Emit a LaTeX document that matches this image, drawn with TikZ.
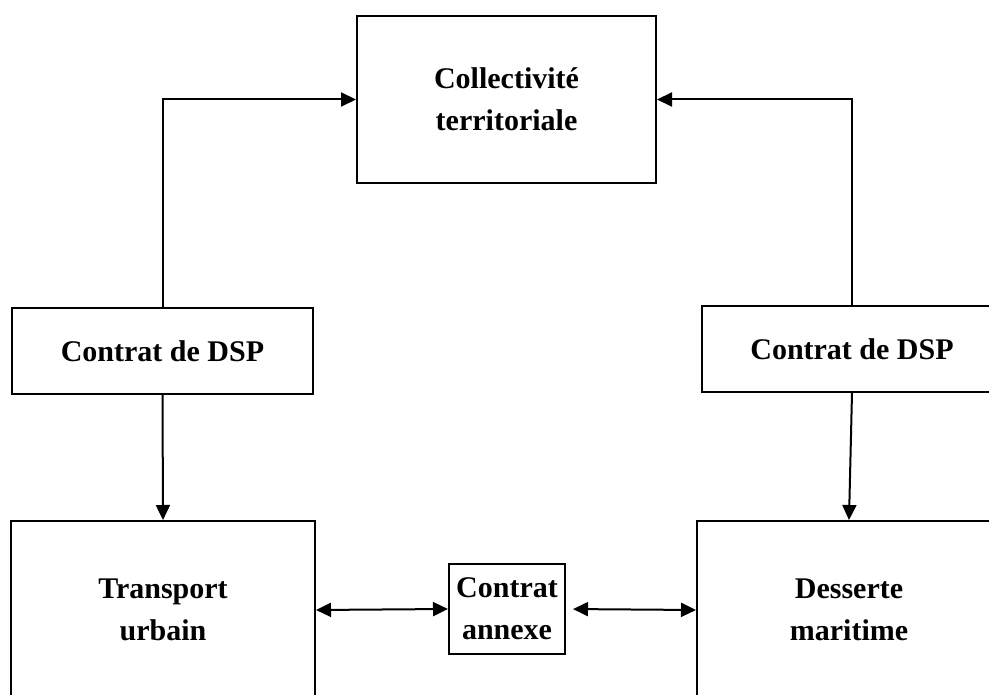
\documentclass[tikz,border=0pt]{standalone}
\usepackage{fontspec}
\setmainfont{Liberation Serif}
\usetikzlibrary{arrows.meta}
\begin{document}
\begin{tikzpicture}[x=1pt,y=-1pt,
  box/.style={draw, line width=2pt, inner sep=0pt, align=center,
    font=\bfseries\fontsize{30}{42}\selectfont},
  arr/.style={line width=2pt, -{Triangle[length=15pt,width=14pt]}},
  darr/.style={line width=2pt, {Triangle[length=15pt,width=14pt]}-{Triangle[length=15pt,width=14pt]}}]
\useasboundingbox (0,0) rectangle (989,695);
\clip (0,0) rectangle (989,695);
\node[box, minimum width=299pt, minimum height=167pt] (coll) at (506.5,99.5) {Collectivité\\territoriale};
\node[box, minimum width=301pt, minimum height=86pt] (dspL) at (162.5,351) {Contrat de DSP};
\node[box, minimum width=300pt, minimum height=86pt] (dspR) at (852,349) {Contrat de DSP};
\node[box, minimum width=304pt, minimum height=178pt] (tu) at (163,610) {Transport\\urbain};
\node[box, minimum width=304pt, minimum height=178pt] (dm) at (849,610) {Desserte\\maritime};
\node[box, minimum width=116pt, minimum height=90pt] (ca) at (507,609) {Contrat\\annexe};
\draw[arr] (dspL.north) |- (coll.west);
\draw[arr] (dspR.north) |- (coll.east);
\draw[arr] (dspL.south) -- (tu.north);
\draw[arr] (dspR.south) -- (dm.north);
\draw[darr] (tu.east) -- (ca.west);
\draw[darr, shorten <=7pt] (ca.east) -- (dm.west);
\end{tikzpicture}
\end{document}
